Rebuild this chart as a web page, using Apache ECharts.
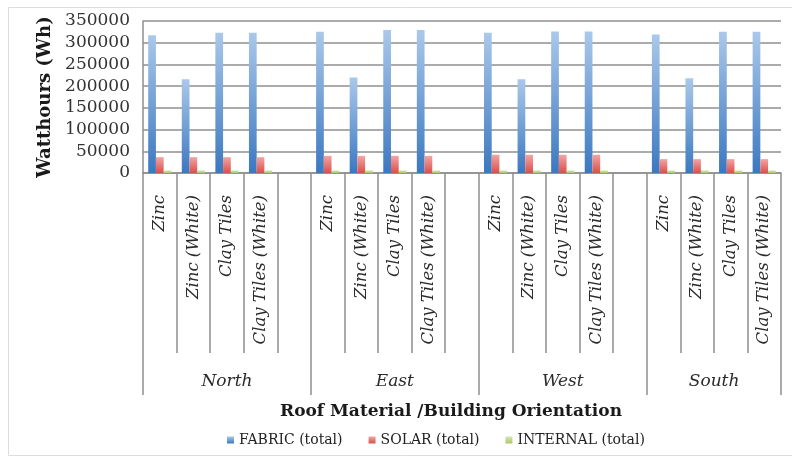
<!DOCTYPE html>
<html>
<head>
<meta charset="utf-8">
<title>Watthours by roof material and orientation</title>
<script src="https://cdn.jsdelivr.net/npm/echarts@6/dist/echarts.min.js"></script>
<style>
  html, body { margin: 0; padding: 0; background: #fff; }
  #chart { width: 792px; height: 458px; }
</style>
</head>
<body>
<div id="chart"></div>
<script>
/* === Data === */
const orientations = ['North', 'East', 'West', 'South'];
const materials = ['Zinc', 'Zinc (White)', 'Clay Tiles', 'Clay Tiles (White)'];
const fabric = [317000, 216000, 323000, 323000, 325000, 220000, 329000, 329000,
                323000, 216000, 326000, 326000, 319000, 218000, 325000, 325000];
const solar = [36500, 36500, 36500, 36500, 39500, 39500, 39500, 39500,
               42000, 42000, 42000, 42000, 32000, 32000, 32000, 32000];
const internal = [6000, 6000, 6000, 6000, 6000, 6000, 6000, 6000,
                  6000, 6000, 6000, 6000, 6000, 6000, 6000, 6000];
const yTicks = { min: 0, max: 350000, interval: 50000 };

/* === Build category slots (blank slot between orientation groups) === */
const SERIF = "'DejaVu Serif', 'Liberation Serif', serif";
const slotLabels = [];
const groupLabels = [];
const slotIndex = [];
orientations.forEach((o, g) => {
  materials.forEach((m, k) => {
    slotIndex.push(slotLabels.length);
    slotLabels.push(m);
    groupLabels.push(k === 2 ? o : '');
  });
  if (g < orientations.length - 1) {
    slotLabels.push('');
    groupLabels.push('');
  }
});
// South has only 4 slots: its label sits on the boundary, nudge it half a band
groupLabels[16] = { value: 'South', textStyle: { padding: [0, 0, 0, 34] } };
groupLabels[17] = '';

function toSlots(values) {
  const out = slotLabels.map(() => '-');
  values.forEach((v, i) => { out[slotIndex[i]] = v; });
  return out;
}

function grad(top, bottom) {
  return new echarts.graphic.LinearGradient(0, 0, 0, 1, [
    { offset: 0, color: top },
    { offset: 1, color: bottom }
  ]);
}

const GRID_LINE = { color: '#8f8f8f', width: 1.5 };

const chart = echarts.init(document.getElementById('chart'));
chart.setOption({
  backgroundColor: '#fff',
  animation: false,
  graphic: [{
    type: 'rect',
    shape: { x: 8.5, y: 7.5, width: 800, height: 448 },
    style: { fill: 'none', stroke: '#dcdcdc', lineWidth: 1 },
    silent: true
  }],
  grid: { left: 143, right: 11, top: 21, bottom: 285, containLabel: false },
  legend: {
    left: 222, top: 428,
    icon: 'rect', itemWidth: 7, itemHeight: 7, itemGap: 26,
    textStyle: { fontFamily: SERIF, fontSize: 14, color: '#222' },
    data: ['FABRIC (total)', 'SOLAR (total)', 'INTERNAL (total)']
  },
  xAxis: [{
    type: 'category',
    data: slotLabels,
    axisLine: { lineStyle: GRID_LINE },
    axisTick: { show: true, interval: 0, length: 180, lineStyle: GRID_LINE },
    axisLabel: {
      interval: 0, rotate: 90, margin: 22,
      fontFamily: SERIF, fontStyle: 'italic', fontSize: 16.5, color: '#2b2b2b'
    }
  }, {
    type: 'category',
    data: groupLabels,
    position: 'bottom',
    axisLine: { show: false },
    axisTick: { show: true, interval: (i) => i % 5 === 0, length: 222, lineStyle: GRID_LINE },
    axisLabel: {
      interval: 0, margin: 200,
      fontFamily: SERIF, fontStyle: 'italic', fontSize: 17, color: '#2b2b2b'
    },
    name: 'Roof Material /Building Orientation',
    nameLocation: 'middle',
    nameGap: 230,
    nameTextStyle: {
      fontFamily: SERIF, fontWeight: 'bold', fontSize: 17, color: '#1a1a1a',
      padding: [0, 22, 0, 0]
    }
  }],
  yAxis: {
    type: 'value',
    min: yTicks.min, max: yTicks.max, interval: yTicks.interval,
    axisLine: { show: true, lineStyle: GRID_LINE },
    axisTick: { show: false },
    splitLine: { lineStyle: GRID_LINE },
    axisLabel: {
      margin: 13, fontFamily: SERIF, fontSize: 17, color: '#333',
      formatter: (v) => String(v)
    },
    name: 'Watthours (Wh)',
    nameLocation: 'middle',
    nameGap: 84,
    nameTextStyle: { fontFamily: SERIF, fontWeight: 'bold', fontSize: 18, color: '#1a1a1a' }
  },
  series: [{
    name: 'FABRIC (total)', type: 'bar',
    data: toSlots(fabric),
    barGap: 0, barCategoryGap: '31%',
    itemStyle: { color: grad('#aac8ea', '#3b78c0') }
  }, {
    name: 'SOLAR (total)', type: 'bar',
    data: toSlots(solar),
    itemStyle: { color: grad('#f2a5a3', '#d8504c') }
  }, {
    name: 'INTERNAL (total)', type: 'bar',
    data: toSlots(internal),
    itemStyle: { color: grad('#d5e6b0', '#a9c86a') }
  }]
});
</script>
</body>
</html>
